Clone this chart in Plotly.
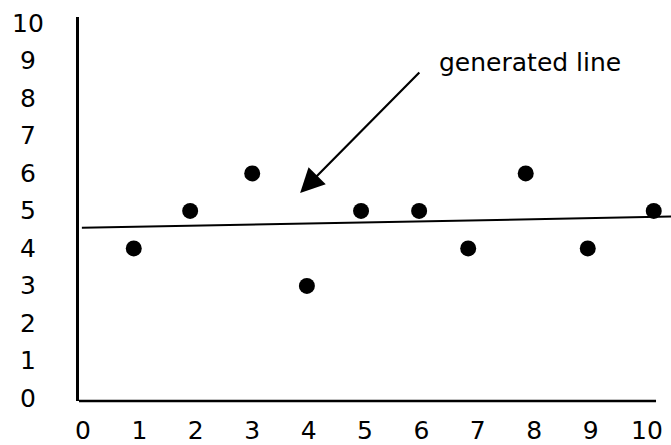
import plotly.graph_objects as go

x_vals = [0.90, 1.90, 3.0, 3.97, 4.93, 5.96, 6.83, 7.85, 8.95, 10.12]
y_vals = [4, 5, 6, 3, 5, 5, 4, 6, 4, 5]
line_x = [-0.02, 10.43]
line_y = [4.55, 4.85]
tick_vals = list(range(0, 11))
tick_text = [str(v) for v in tick_vals]
label_text = "generated line"

FONT = "DejaVu Sans"
FS = 25

fig = go.Figure()
fig.add_trace(go.Scatter(x=line_x, y=line_y, mode="lines",
                         line=dict(color="black", width=2),
                         showlegend=False, hoverinfo="skip"))
fig.add_trace(go.Scatter(x=x_vals, y=y_vals, mode="markers",
                         marker=dict(color="black", size=16, symbol="circle"),
                         cliponaxis=False, showlegend=False))

annotations = []
for v, t in zip(tick_vals, tick_text):
    annotations.append(dict(x=0, xref="paper", y=v, yref="y", text=t,
                            showarrow=False, xanchor="center", yanchor="middle",
                            xshift=-51, font=dict(family=FONT, size=FS, color="black")))
annotations.append(dict(x=3.85, y=5.48, ax=5.99, ay=8.73, xref="x", yref="y",
                        axref="x", ayref="y", text="", showarrow=True,
                        arrowhead=2, arrowsize=2.2, arrowwidth=2.2, arrowcolor="black"))
annotations.append(dict(x=7.93, y=8.95, xref="x", yref="y", text=label_text,
                        showarrow=False, xanchor="center", yanchor="middle",
                        font=dict(family=FONT, size=FS, color="black")))

shapes = [dict(type="line", xref="paper", yref="paper", x0=0, x1=0.9747, y0=0, y1=0,
               line=dict(color="black", width=2.5))]

fig.update_layout(
    width=671, height=445,
    margin=dict(l=79, r=0, t=17, b=44),
    paper_bgcolor="white", plot_bgcolor="white",
    font=dict(family=FONT, size=FS, color="black"),
    xaxis=dict(range=[-0.071, 10.426], tickvals=tick_vals, ticktext=tick_text,
               tickfont=dict(family=FONT, size=FS, color="black"),
               showgrid=False, zeroline=False, showline=False,
               ticks="", ticklabelstandoff=12, automargin=False),
    yaxis=dict(range=[-0.067, 10.17], showticklabels=False,
               showgrid=False, zeroline=False, showline=True, linecolor="black",
               linewidth=2.5, ticks="", automargin=False),
    annotations=annotations,
    shapes=shapes,
)

fig.write_html("out.html", config={"displayModeBar": False},
               post_script="document.body.style.margin='0';document.body.style.overflow='hidden';")
